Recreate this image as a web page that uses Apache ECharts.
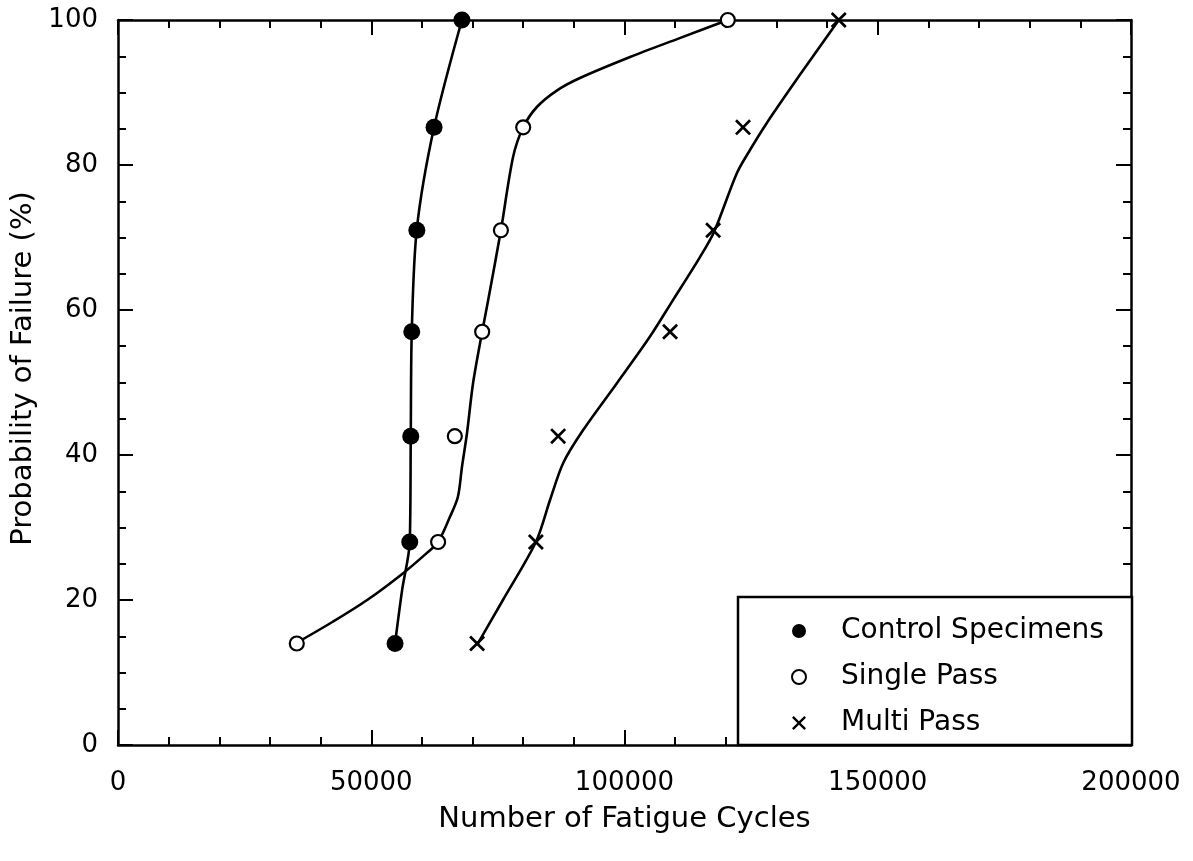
<!DOCTYPE html>
<html><head><meta charset="utf-8">
<script src="https://cdn.jsdelivr.net/npm/echarts@6/dist/echarts.min.js"></script>
<style>html,body{margin:0;padding:0;background:#fff}#c{width:1193px;height:861px}</style>
</head><body><div id="c"></div>
<script>
// ---- data ----
const xTickLabels = ['0', '50000', '100000', '150000', '200000'];
const yTickLabels = ['0', '20', '40', '60', '80', '100'];
const probability = [14, 28, 42.6, 57, 71, 85.2, 100];
const controlCycles = [54700, 57600, 57800, 58000, 59000, 62400, 67900];
const singleCycles  = [35300, 63200, 66500, 71900, 75600, 80000, 120400];
const multiCycles   = [70900, 82500, 86900, 109000, 117500, 123400, 142300];

// fitted curves
const controlFitX = [54700, 56100, 57600, 57800, 58000, 59000, 62400, 67900];
const controlFitY = [14, 21.4, 28, 42.6, 57, 71.2, 85.2, 100];
const singleFitX = [35300, 42400, 49200, 56300, 61000, 63200, 65500, 67100, 67900, 68900, 70100, 71900, 73100, 75600, 78000, 80000, 82700, 86700, 91200, 101100, 110900, 120400];
const singleFitY = [14.1, 17.0, 20.0, 23.7, 26.5, 28.0, 31.4, 34.2, 38.3, 43.0, 49.9, 57.0, 61.4, 71.0, 81.1, 85.2, 88.0, 90.3, 92.0, 94.9, 97.5, 100];
const multiFitX = [70900, 76000, 82500, 85300, 87900, 91800, 98500, 105000, 109600, 114900, 117700, 122200, 124800, 128100, 134600, 142300];
const multiFitY = [13.8, 20.0, 28.0, 33.8, 38.9, 43.4, 49.9, 56.3, 61.4, 67.3, 70.8, 78.9, 82.1, 85.8, 92.4, 100];

const seriesNames = ['Control Specimens', 'Single Pass', 'Multi Pass'];

// ---- build ----
const zip = (a, b) => a.map((v, i) => [v, b[i]]);
const FONT = 'DejaVu Sans';
const crossPath = 'path://M0,1.2L1.2,0L5,3.8L8.8,0L10,1.2L6.2,5L10,8.8L8.8,10L5,6.2L1.2,10L0,8.8L3.8,5Z';
const axisLine = { show: true, onZero: false, lineStyle: { color: '#000', width: 2.5 } };
const xMax = Number(xTickLabels[xTickLabels.length - 1]);
const yMax = Number(yTickLabels[yTickLabels.length - 1]);
const xInterval = Number(xTickLabels[1]) - Number(xTickLabels[0]);
const yInterval = Number(yTickLabels[1]) - Number(yTickLabels[0]);
const plain = v => String(v);

function xAx(pos, showLabel) {
  return {
    type: 'value', position: pos, min: 0, max: xMax, interval: xInterval,
    axisLine, splitLine: { show: false },
    axisTick: { show: true, inside: true, length: 15, lineStyle: { color: '#000', width: 2 } },
    minorTick: { show: true, splitNumber: 5, length: 8, lineStyle: { color: '#000', width: 2 } },
    axisLabel: { show: showLabel, color: '#000', fontFamily: FONT, fontSize: 26, margin: 25, formatter: plain },
    name: showLabel ? 'Number of Fatigue Cycles' : '',
    nameLocation: 'middle', nameGap: 60,
    nameTextStyle: { color: '#000', fontFamily: FONT, fontSize: 29 }
  };
}
function yAx(pos, showLabel) {
  return {
    type: 'value', position: pos, min: 0, max: yMax, interval: yInterval,
    axisLine, splitLine: { show: false },
    axisTick: { show: true, inside: true, length: 15, lineStyle: { color: '#000', width: 2 } },
    minorTick: { show: true, splitNumber: 4, length: 8, lineStyle: { color: '#000', width: 2 } },
    axisLabel: { show: showLabel, color: '#000', fontFamily: FONT, fontSize: 26, margin: 20, formatter: plain },
    name: showLabel ? 'Probability of Failure (%)' : '',
    nameLocation: 'middle', nameGap: 79,
    nameTextStyle: { color: '#000', fontFamily: FONT, fontSize: 29, padding: [0, 0, 0, 28] }
  };
}

const fitLine = (name, xs, ys) => ({
  name, type: 'line', data: zip(xs, ys), smooth: 0.3, symbol: 'none',
  lineStyle: { color: '#000', width: 2.6 }, z: 2, silent: true
});

const chart = echarts.init(document.getElementById('c'), null, { renderer: 'canvas' });
chart.setOption({
  animation: false,
  backgroundColor: '#fff',
  grid: { left: 118, right: 62, top: 20, bottom: 116 },
  xAxis: [xAx('bottom', true), xAx('top', false)],
  yAxis: [yAx('left', true), yAx('right', false)],
  legend: {
    data: seriesNames,
    orient: 'vertical', left: 738, top: 597,
    padding: [19, 21, 7, 53],
    itemWidth: 14, itemHeight: 14, itemGap: 16,
    borderColor: '#000', borderWidth: 2.5, backgroundColor: '#fff',
    textStyle: { color: '#000', fontFamily: FONT, fontSize: 28, lineHeight: 30, width: 270, padding: [0, 0, 0, 30] },
    selectedMode: false
  },
  series: [
    fitLine('Control fit', controlFitX, controlFitY),
    fitLine('Single fit', singleFitX, singleFitY),
    fitLine('Multi fit', multiFitX, multiFitY),
    { name: seriesNames[0], type: 'scatter', data: zip(controlCycles, probability),
      symbol: 'circle', symbolSize: 17, itemStyle: { color: '#000', opacity: 1 }, z: 5 },
    { name: seriesNames[1], type: 'scatter', data: zip(singleCycles, probability),
      symbol: 'circle', symbolSize: 14, itemStyle: { color: '#fff', borderColor: '#000', borderWidth: 2.2, opacity: 1 }, z: 5 },
    { name: seriesNames[2], type: 'scatter', data: zip(multiCycles, probability),
      symbol: crossPath, symbolSize: 16, itemStyle: { color: '#000', opacity: 1 }, z: 5 }
  ]
});
</script></body></html>
